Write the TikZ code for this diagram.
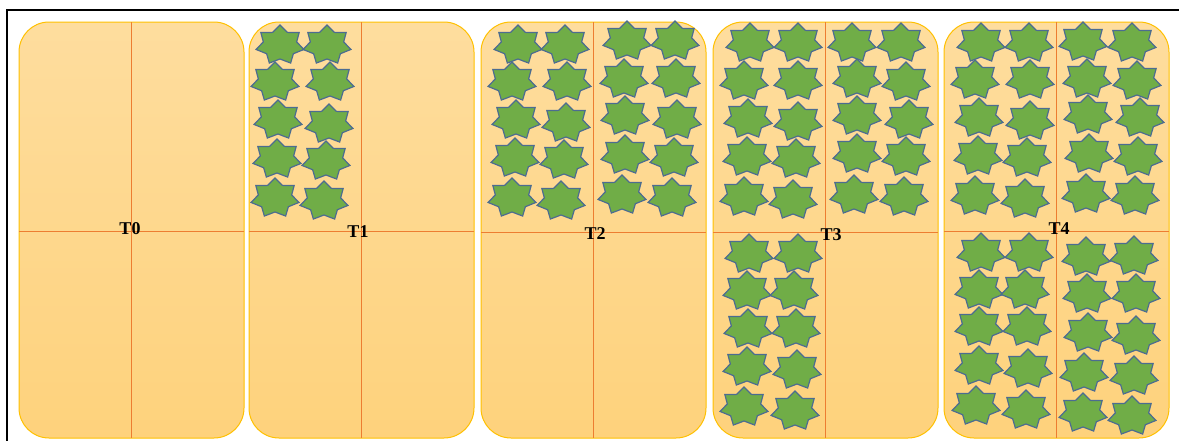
\documentclass[tikz,border=0pt]{standalone}
\usepackage{fontspec}
\setmainfont{Liberation Serif}
\usepackage{xcolor}
\definecolor{panelTop}{RGB}{254,221,158}
\definecolor{panelBot}{RGB}{254,210,124}
\definecolor{panelEdge}{RGB}{255,192,0}
\definecolor{splitLine}{RGB}{237,125,49}
\definecolor{starFill}{RGB}{112,173,71}
\definecolor{starEdge}{RGB}{76,108,145}

\tikzset{
  panel/.style={draw=panelEdge, line width=1pt, rounded corners=30pt, top color=panelTop, bottom color=panelBot},
  split/.style={draw=splitLine, line width=1pt},
  tlabel/.style={inner sep=0pt, font=\bfseries\fontsize{18}{20}\selectfont},
  sevenstar/.pic={
    \filldraw[fill=starFill, draw=starEdge, line width=1.2pt, line join=miter]
      (90:24.5pt and 20pt)
      \foreach \k in {0,...,6} {
        -- ({90+\k*360/7+180/7}:17.1pt and 14pt)
        -- ({90+(\k+1)*360/7}:24.5pt and 20pt)
      } -- cycle;
  }
}

\begin{document}
\begin{tikzpicture}[x=1pt, y=-1pt]
\useasboundingbox (0,0) rectangle (1179,440);
\begin{scope}
\clip (0,0) rectangle (1179,440);
\draw[black, line width=2pt] (7,450) -- (7,10) -- (1190,10);
\end{scope}

\path[panel] (19,22) rectangle (244,438);
\path[panel] (249,22) rectangle (474,438);
\path[panel] (481,22) rectangle (706,438);
\path[panel] (713,22) rectangle (938,438);
\path[panel] (944,22) rectangle (1169,438);

\draw[split] (131,22) -- (131,438);
\draw[split] (19,231) -- (244,231);
\draw[split] (361,22) -- (361,438);
\draw[split] (249,231) -- (474,231);
\draw[split] (593,22) -- (593,438);
\draw[split] (481,232) -- (706,232);
\draw[split] (825,22) -- (825,438);
\draw[split] (713,232) -- (938,232);
\draw[split] (1056,22) -- (1056,438);
\draw[split] (944,231) -- (1169,231);

\foreach \sx/\sy in {280/45,327/45,275/82,330/82,278/120,329/124,277/159,326/161,275/198,324/201}
  \pic at (\sx,\sy) {sevenstar};

\foreach \sx/\sy in {518/45,565/45,512/82,567/82,516/120,566/123,515/158,564/160,512/198,561/201,
  627/41,675/41,624/79,676/79,625/116,677/120,625/155,674/158,622/195,672/198}
  \pic at (\sx,\sy) {sevenstar};

\foreach \sx/\sy in {750/43,798/43,744/81,798/81,748/119,798/122,747/157,796/159,744/197,793/200,
  852/43,901/43,857/79,906/82,857/116,909/120,857/154,906/157,854/195,904/197,
  749/254,798/254,747/291,794/291,748/329,796/329,747/367,797/370,744/407,795/411}
  \pic at (\sx,\sy) {sevenstar};

\foreach \sx/\sy in {981/43,1029/43,975/80,1030/80,979/118,1030/121,978/156,1027/158,975/196,1025/199,
  1083/42,1132/43,1087/79,1137/81,1088/115,1140/118,1089/154,1138/157,1086/194,1135/196,
  981/253,1029/253,979/290,1025/290,979/327,1027/327,979/366,1028/369,976/406,1026/410,
  1086/257,1134/256,1087/294,1136/294,1088/333,1136/336,1084/373,1134/376,1083/413,1132/416}
  \pic at (\sx,\sy) {sevenstar};

\node[tlabel] (t0) at (130,229) {T0};
\node[tlabel] (t1) at (358,232) {T1};
\node[tlabel] (t2) at (595,234) {T2};
\node[tlabel] (t3) at (831,235) {T3};
\node[tlabel] (t4) at (1059,229) {T4};
\end{tikzpicture}
\end{document}
